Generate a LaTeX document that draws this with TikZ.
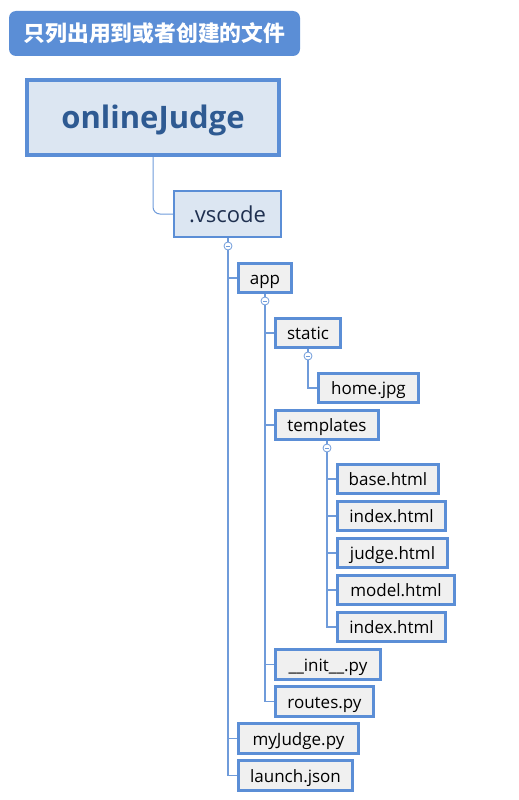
\documentclass[tikz,border=0pt]{standalone}
\usepackage{fontspec}
\setmainfont{Open Sans}
\newfontfamily\cjk{Noto Sans CJK SC}
\definecolor{bl}{HTML}{5B8ED6}
\definecolor{ln}{HTML}{6F9BDA}
\definecolor{gr}{HTML}{F0F0F0}
\definecolor{lb}{HTML}{DCE6F2}
\definecolor{dk}{HTML}{2E5A92}
\definecolor{nv}{HTML}{1F3050}
\begin{document}
\begin{tikzpicture}[x=1pt,y=-1pt,
  filebox/.style={draw=bl,line width=3pt,fill=gr,minimum height=29.5pt,inner sep=0pt,text height=13.5pt,text depth=0pt,font=\fontsize{17}{19}\selectfont},
  conn/.style={draw=ln,line width=1.3pt},
  tog/.style={circle,draw=ln,line width=0.8pt,fill=white,minimum size=8pt,inner sep=0pt,
    path picture={\draw[ln,line width=0.8pt] ([xshift=-2.2pt]path picture bounding box.center) -- ([xshift=2.2pt]path picture bounding box.center);}}]
\useasboundingbox (0,0) rectangle (519,800);
\node[fill=bl,rounded corners=7pt,minimum width=291pt,minimum height=45pt,inner sep=0pt,text=white,font=\cjk\bfseries\fontsize{21.8}{24}\selectfont] (title) at (154.5,33.5) {只列出用到或者创建的文件};
\node[draw=bl,line width=4pt,fill=lb,minimum width=252pt,minimum height=75pt,inner sep=0pt,text height=22pt,text depth=0pt,text=dk,font=\bfseries\fontsize{31}{34}\selectfont] (oj) at (153,117.5) {onlineJudge};
\node[draw=bl,line width=2pt,fill=lb,minimum width=107pt,minimum height=46pt,inner sep=0pt,text height=17pt,text depth=0pt,text=nv,font=\fontsize{22}{26}\selectfont] (vs) at (227.5,214) {.vscode};
\draw[draw=ln,line width=1pt,rounded corners=7pt] (oj.south) |- (vs.west);

\node[filebox,minimum width=53pt] (app) at (265,278) {app};
\node[filebox,minimum width=65pt] (static) at (308,333) {static};
\node[filebox,minimum width=100pt] (home) at (368.5,388) {home.jpg};
\node[filebox,minimum width=103pt] (tpl) at (327,425) {templates};
\node[filebox,minimum width=101pt] (base) at (388,479) {base.html};
\node[filebox,minimum width=108pt] (idx1) at (391.5,516) {index.html};
\node[filebox,minimum width=110pt] (judge) at (392.5,553) {judge.html};
\node[filebox,minimum width=117pt] (model) at (396,590) {model.html};
\node[filebox,minimum width=108pt] (idx2) at (391.5,627) {index.html};
\node[filebox,minimum width=105pt] (init) at (328,664.5) {\_\_init\_\_.py};
\node[filebox,minimum width=98pt] (routes) at (324.5,701.5) {routes.py};
\node[filebox,minimum width=120pt] (myj) at (298.5,738.5) {myJudge.py};
\node[filebox,minimum width=114pt] (launch) at (295.5,775.5) {launch.json};

\node[tog] (t0) at (228,246) {};
\node[tog] (t1) at (265,301) {};
\node[tog] (t2) at (308,356) {};
\node[tog] (t3) at (327,448) {};

% level 1
\draw[conn] (vs.south -| t0) -- (t0.north);
\draw[conn] (t0.south) |- (launch.west);
\draw[conn] (t0.south |- app.west) -- (app.west);
\draw[conn] (t0.south |- myj.west) -- (myj.west);
% level 2
\draw[conn] (app.south -| t1) -- (t1.north);
\draw[conn] (t1.south) |- (routes.west);
\draw[conn] (t1.south |- static.west) -- (static.west);
\draw[conn] (t1.south |- tpl.west) -- (tpl.west);
\draw[conn] (t1.south |- init.west) -- (init.west);
% static
\draw[conn] (static.south -| t2) -- (t2.north);
\draw[conn] (t2.south) |- (home.west);
% templates
\draw[conn] (tpl.south -| t3) -- (t3.north);
\draw[conn] (t3.south) |- (idx2.west);
\foreach \n in {base,idx1,judge,model}
  \draw[conn] (t3.south |- \n.west) -- (\n.west);
\end{tikzpicture}
\end{document}
